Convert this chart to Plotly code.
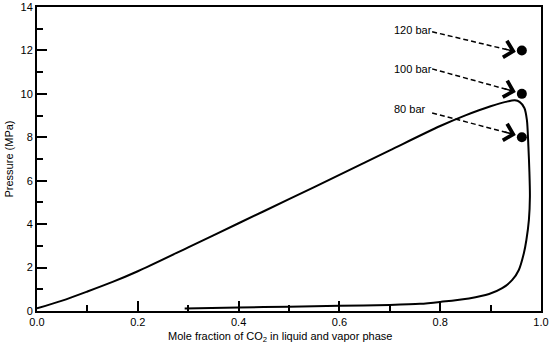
import plotly.graph_objects as go

# Phase envelope (single continuous line): upper branch, right branch, lower branch
env_x = [0.000, 0.050, 0.100, 0.150, 0.200, 0.300, 0.400, 0.500, 0.600, 0.700, 0.800,
         0.850, 0.900, 0.930, 0.948,
         0.958, 0.967, 0.972, 0.975, 0.977, 0.978, 0.976, 0.971, 0.966, 0.956, 0.943,
         0.923, 0.897, 0.857, 0.800, 0.760, 0.700, 0.600, 0.500, 0.400, 0.293]
env_p = [0.12, 0.48, 0.90, 1.34, 1.83, 2.93, 4.04, 5.15, 6.27, 7.40, 8.52,
         9.01, 9.43, 9.63, 9.70,
         9.62, 9.35, 8.80, 7.57, 6.40, 5.27, 4.20, 3.27, 2.66, 1.89, 1.43,
         1.05, 0.78, 0.58, 0.42, 0.33, 0.28, 0.24, 0.20, 0.16, 0.12]

# Experimental points
pt_x = [0.962, 0.962, 0.962]
pt_p = [12.0, 10.0, 8.0]
pt_labels = ["120 bar", "100 bar", "80 bar"]

# Label positions and arrows (start -> tip)
lab_x = [0.705, 0.705, 0.705]
lab_p = [12.95, 11.15, 9.3]
arr_x0 = [0.784, 0.784, 0.784]
arr_p0 = [12.86, 11.15, 9.12]
arr_x1 = [0.950, 0.950, 0.950]
arr_p1 = [11.94, 10.09, 8.11]

x_title = "Mole fraction of CO<sub>2</sub> in liquid and vapor phase"
y_title = "Pressure (MPa)"

FONT = "Liberation Sans, Arial, sans-serif"

fig = go.Figure()
fig.add_trace(go.Scatter(x=env_x, y=env_p, mode="lines",
                         line=dict(color="black", width=2, shape="spline", smoothing=0.8),
                         showlegend=False, hoverinfo="skip"))
for i in range(3):
    fig.add_trace(go.Scatter(x=[arr_x0[i], arr_x1[i]], y=[arr_p0[i], arr_p1[i]], mode="lines",
                             line=dict(color="black", width=1.5, dash="5px,3px"),
                             showlegend=False, hoverinfo="skip"))
    dx = arr_x1[i] - arr_x0[i]
    dp = arr_p1[i] - arr_p0[i]
    fig.add_annotation(x=arr_x1[i], y=arr_p1[i], ax=arr_x1[i] - 0.14 * dx, ay=arr_p1[i] - 0.14 * dp,
                       xref="x", yref="y", axref="x", ayref="y", text="", showarrow=True,
                       borderpad=0, standoff=0, startstandoff=0,
                       arrowhead=4, arrowsize=2.2, arrowwidth=1.5, arrowcolor="black")
    fig.add_annotation(x=lab_x[i], y=lab_p[i], xref="x", yref="y", text=pt_labels[i],
                       showarrow=False, xanchor="left", yanchor="middle",
                       font=dict(family=FONT, size=11, color="black"))
fig.add_trace(go.Scatter(x=pt_x, y=pt_p, mode="markers",
                         marker=dict(color="black", size=10),
                         showlegend=False, hoverinfo="skip"))

# x-axis title (placed as paper annotation to match the reference's offset)
fig.add_annotation(x=0.482, y=-0.084, xref="paper", yref="paper", text=x_title,
                   showarrow=False, xanchor="center", yanchor="middle",
                   font=dict(family=FONT, size=11, color="black"))

fig.update_layout(
    width=550, height=344,
    margin=dict(l=37, r=9, t=7, b=33),
    paper_bgcolor="white", plot_bgcolor="white",
    font=dict(family=FONT, size=11, color="black"),
    showlegend=False,
)
fig.update_xaxes(range=[0, 1], dtick=0.2, tick0=0, tickformat=".1f",
                 ticks="inside", ticklen=10, tickwidth=2, tickcolor="black",
                 minor=dict(dtick=0.1, ticks="inside", ticklen=6, tickwidth=2, tickcolor="black"),
                 showline=True, linewidth=2, linecolor="black", mirror=True,
                 showgrid=False, zeroline=False, automargin=False,
                 tickfont=dict(size=11))
fig.update_yaxes(range=[0, 14], dtick=2, tick0=0,
                 ticks="inside", ticklen=10, tickwidth=2, tickcolor="black",
                 minor=dict(dtick=1, ticks="inside", ticklen=6, tickwidth=2, tickcolor="black"),
                 showline=True, linewidth=2, linecolor="black", mirror=True,
                 showgrid=False, zeroline=False, automargin=False,
                 tickfont=dict(size=11),
                 title=dict(text=y_title, font=dict(size=11), standoff=5))

fig.write_html("out.html", config={"displayModeBar": False},
               post_script="document.body.style.margin='0';document.body.style.padding='0';")
